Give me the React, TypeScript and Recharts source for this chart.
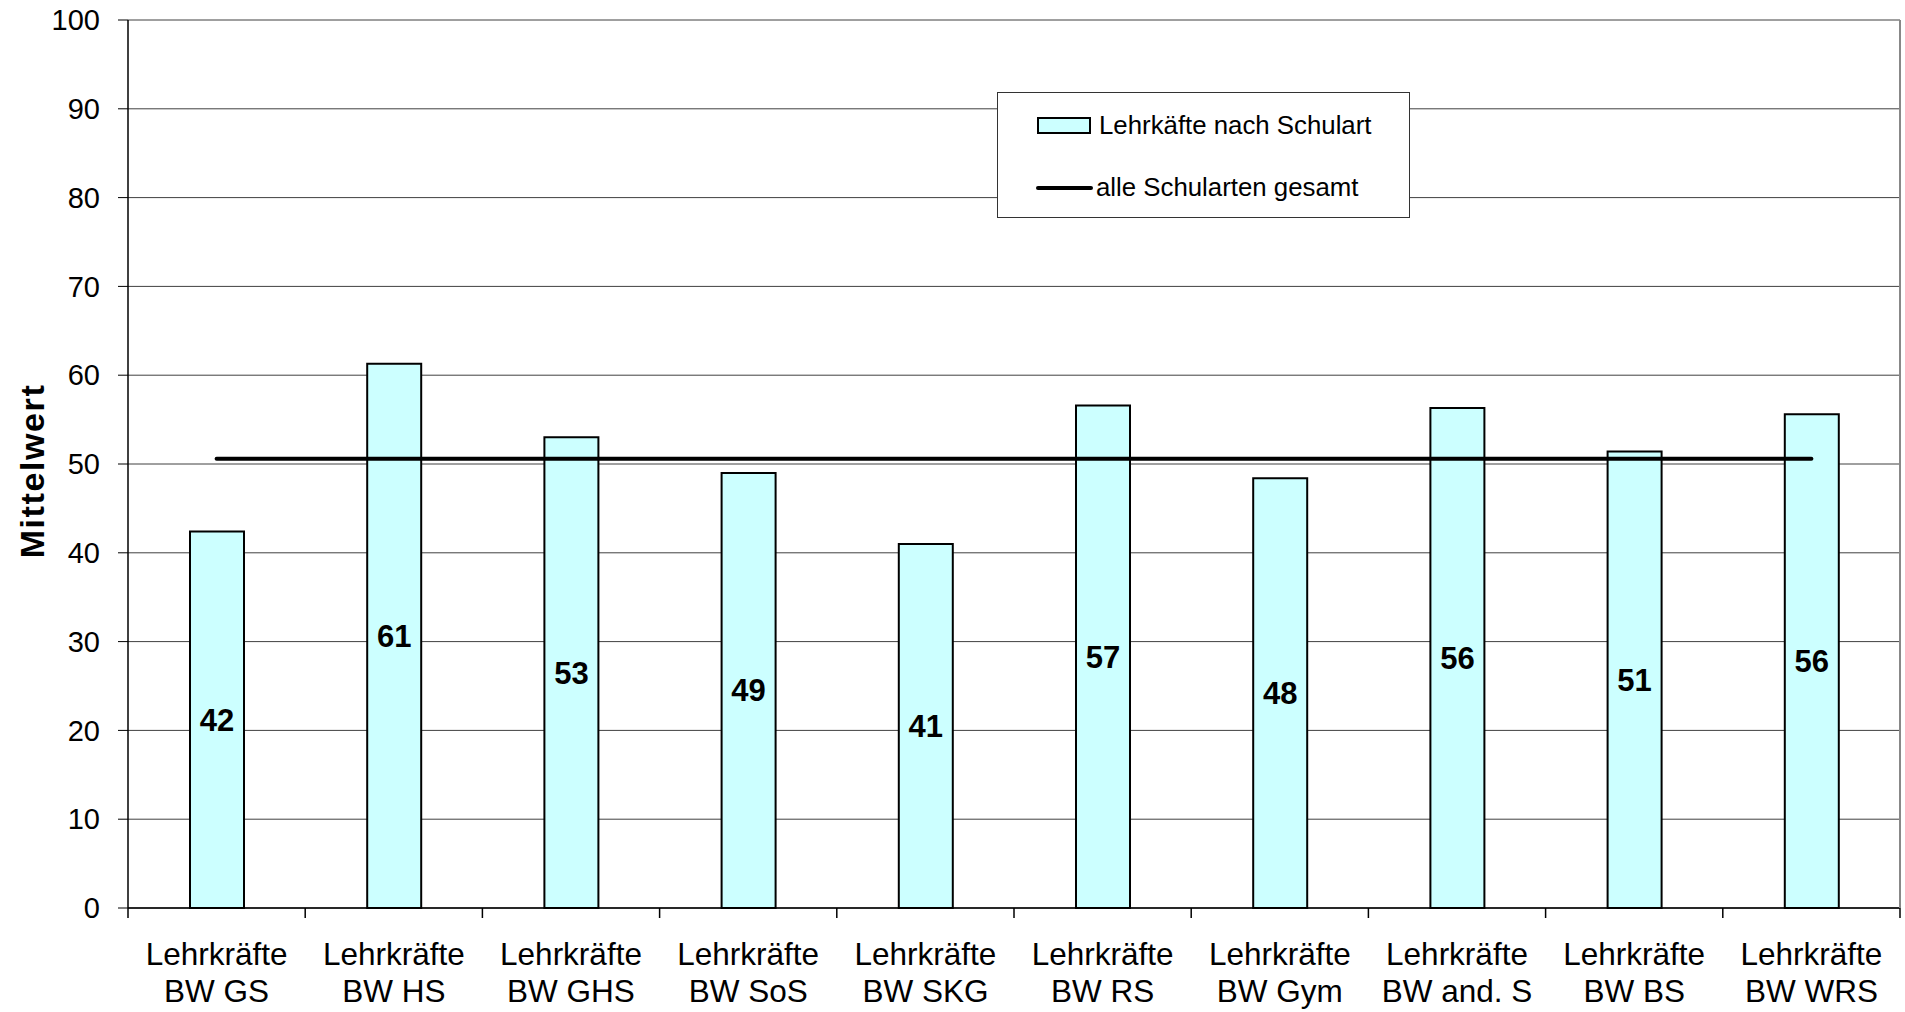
import React from 'react';
import {
  ComposedChart,
  Bar,
  Line,
  XAxis,
  YAxis,
  CartesianGrid,
  LabelList,
  Legend,
} from 'recharts';

const categories = [
  'Lehrkräfte BW GS',
  'Lehrkräfte BW HS',
  'Lehrkräfte BW GHS',
  'Lehrkräfte BW SoS',
  'Lehrkräfte BW SKG',
  'Lehrkräfte BW RS',
  'Lehrkräfte BW Gym',
  'Lehrkräfte BW and. S',
  'Lehrkräfte BW BS',
  'Lehrkräfte BW WRS',
];
const schoolTypeValues = [42.4, 61.3, 53.0, 49.0, 41.0, 56.6, 48.4, 56.3, 51.4, 55.6];
const overallValue = 50.6;
const yTicks = [0, 10, 20, 30, 40, 50, 60, 70, 80, 90, 100];
const barSeriesName = 'Lehrkäfte nach Schulart';
const lineSeriesName = 'alle Schularten gesamt';
const yAxisTitle = 'Mittelwert';

const data = categories.map((c, i) => ({
  name: c,
  value: schoolTypeValues[i],
  avg: overallValue,
}));

const W = 1905;
const H = 1012;
const LEFT = 128;
const RIGHT_AXIS = 5;
const TOP = 20;
const X_AXIS_H = 104;
const PLOT_W = W - LEFT - RIGHT_AXIS;
const BAND = PLOT_W / categories.length;
const FONT = '"Liberation Sans", Arial, sans-serif';
const BAR_FILL = '#CCFFFF';

const XTick = (props: any) => {
  const { x, y, payload, index } = props;
  const label: string = payload.value;
  const sp = label.indexOf(' ');
  const l1 = label.slice(0, sp);
  const l2 = label.slice(sp + 1);
  const half = BAND / 2;
  return (
    <g>
      <line x1={x - half} x2={x - half} y1={y} y2={y + 10} stroke="#000" strokeWidth={1.5} />
      {index === categories.length - 1 && (
        <line x1={x + half} x2={x + half} y1={y} y2={y + 10} stroke="#000" strokeWidth={1.5} />
      )}
      <text x={x} y={y + 57} textAnchor="middle" fontSize={31.5} fill="#000" fontFamily={FONT}>
        {l1}
      </text>
      <text x={x} y={y + 94} textAnchor="middle" fontSize={31.5} fill="#000" fontFamily={FONT}>
        {l2}
      </text>
    </g>
  );
};

const LegendBox = () => (
  <div
    style={{
      width: '100%',
      height: '100%',
      border: '1px solid #333',
      boxSizing: 'border-box',
      position: 'relative',
      background: '#fff',
      fontFamily: FONT,
      fontSize: 25.8,
      color: '#000',
    }}
  >
    <div
      style={{
        position: 'absolute',
        left: 39,
        top: 24,
        width: 54,
        height: 17,
        boxSizing: 'border-box',
        border: '2px solid #000',
        background: BAR_FILL,
      }}
    />
    <div style={{ position: 'absolute', left: 101, top: 33, transform: 'translateY(-50%)', whiteSpace: 'nowrap', lineHeight: 1 }}>
      {barSeriesName}
    </div>
    <div
      style={{
        position: 'absolute',
        left: 38,
        top: 93,
        width: 57,
        height: 4,
        borderRadius: 2,
        background: '#000',
      }}
    />
    <div style={{ position: 'absolute', left: 98, top: 95, transform: 'translateY(-50%)', whiteSpace: 'nowrap', lineHeight: 1 }}>
      {lineSeriesName}
    </div>
  </div>
);

const YTitle = () => (
  <text
    x={44}
    y={471}
    transform="rotate(-90 44 471)"
    textAnchor="middle"
    fontSize={34}
    fontWeight="bold"
    letterSpacing={1.6}
    fill="#000"
    fontFamily={FONT}
  >
    {yAxisTitle}
  </text>
);

export default function App() {
  return (
    <div style={{ position: 'absolute', left: 0, top: 0, width: W, height: H, background: '#fff' }}>
      <ComposedChart
        width={W}
        height={H}
        data={data}
        margin={{ top: TOP, right: 0, bottom: 0, left: 0 }}
        style={{ fontFamily: FONT }}
      >
        <CartesianGrid yAxisId="left" vertical={false} stroke="#404040" strokeWidth={1} />
        <XAxis
          dataKey="name"
          height={X_AXIS_H}
          interval={0}
          tickLine={false}
          tickSize={0}
          tickMargin={0}
          axisLine={{ stroke: '#000', strokeWidth: 1.5 }}
          tick={<XTick />}
        />
        <YAxis
          yAxisId="left"
          width={LEFT}
          domain={[0, 100]}
          ticks={yTicks}
          interval={0}
          tickSize={10}
          tickMargin={18}
          axisLine={{ stroke: '#000', strokeWidth: 1.5 }}
          tickLine={{ stroke: '#000', strokeWidth: 1 }}
          tick={{ fontSize: 29, fill: '#000', fontFamily: FONT }}
          label={{ content: () => <YTitle /> }}
        />
        <YAxis
          yAxisId="right"
          orientation="right"
          width={RIGHT_AXIS}
          domain={[0, 100]}
          tick={false}
          tickLine={false}
          axisLine={{ stroke: '#888', strokeWidth: 2 }}
        />
        <Legend
          layout="vertical"
          align="center"
          verticalAlign="middle"
          wrapperStyle={{ left: 997, top: 92, width: 413, height: 126 }}
          content={() => <LegendBox />}
        />
        <Bar
          yAxisId="left"
          dataKey="value"
          name={barSeriesName}
          fill={BAR_FILL}
          stroke="#000"
          strokeWidth={2}
          barSize={54}
          isAnimationActive={false}
        >
          <LabelList
            dataKey="value"
            position="center"
            formatter={(v: any) => Math.round(Number(v))}
            style={{ fontSize: 31, fontWeight: 'bold', fill: '#000', fontFamily: FONT }}
          />
        </Bar>
        <Line
          yAxisId="left"
          dataKey="avg"
          name={lineSeriesName}
          stroke="#000"
          strokeWidth={4}
          strokeLinecap="round"
          dot={false}
          activeDot={false}
          isAnimationActive={false}
        />
      </ComposedChart>
    </div>
  );
}
